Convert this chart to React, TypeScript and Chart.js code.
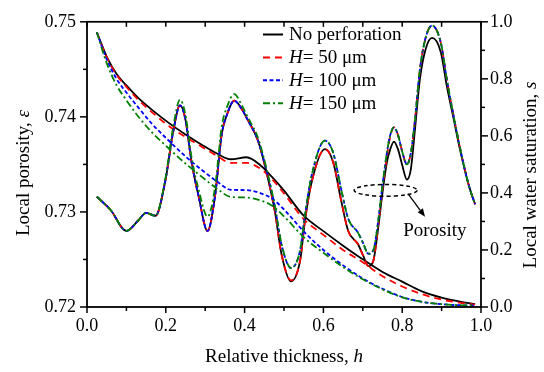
import React, { useEffect, useRef } from 'react';
import { Chart, registerables } from 'chart.js';

Chart.register(...registerables);

// ---- data ----
const H_POR = [0.025,0.06,0.10,0.13,0.15,0.174,0.198,0.219,0.236,0.249,0.266,0.283,0.306,0.325,0.342,0.355,0.374,0.393,0.409,0.434,0.456,0.477,0.494,0.518,0.541,0.553,0.57,0.604,0.625,0.646,0.663,0.688,0.701,0.714,0.727,0.739,0.749,0.761,0.769,0.779,0.79,0.799,0.812,0.822,0.832,0.845,0.86,0.876,0.898,0.913,0.93,0.947,0.969,0.985];
const POR_NONE = [0.7316,0.7302,0.7280,0.7291,0.7299,0.7296,0.7331,0.7385,0.7412,0.7399,0.7351,0.7317,0.7280,0.7317,0.7382,0.7402,0.7417,0.7408,0.7396,0.7375,0.7341,0.7300,0.7255,0.7227,0.7249,0.7290,0.7331,0.7366,0.7352,0.7310,0.7280,0.7266,0.7254,0.7243,0.7249,0.7283,0.7317,0.7352,0.7365,0.7374,0.7365,0.7351,0.7334,0.7345,0.7385,0.7440,0.7472,0.7483,0.7468,0.7433,0.7399,0.7365,0.7328,0.7308];
const POR_50 = [0.7316,0.7302,0.7280,0.7291,0.7299,0.7296,0.7331,0.7385,0.7412,0.7399,0.7351,0.7317,0.7280,0.7317,0.7382,0.7402,0.7417,0.7408,0.7396,0.7375,0.7341,0.7300,0.7255,0.7228,0.7249,0.7290,0.7331,0.7366,0.7352,0.7310,0.7280,0.7266,0.7254,0.7243,0.7249,0.7285,0.7321,0.7358,0.7378,0.7389,0.7380,0.7365,0.7350,0.7362,0.7395,0.7450,0.7484,0.7496,0.7478,0.7440,0.7402,0.7367,0.7328,0.7308];
const POR_100 = [0.7316,0.7302,0.7280,0.7291,0.7299,0.7296,0.7331,0.7385,0.7412,0.7399,0.7351,0.7317,0.7280,0.7317,0.7382,0.7402,0.7417,0.7408,0.7396,0.7375,0.7343,0.7305,0.7265,0.7241,0.7260,0.7296,0.7338,0.7375,0.7362,0.7322,0.7293,0.7278,0.7267,0.7256,0.7260,0.7290,0.7325,0.7362,0.7380,0.7389,0.7380,0.7365,0.7350,0.7362,0.7395,0.7450,0.7484,0.7496,0.7478,0.7440,0.7402,0.7367,0.7328,0.7308];
const POR_150 = [0.7316,0.7302,0.7280,0.7291,0.7299,0.7296,0.7333,0.7390,0.7418,0.7404,0.7356,0.7324,0.7295,0.7326,0.7390,0.7410,0.7424,0.7412,0.7399,0.7378,0.7345,0.7306,0.7266,0.7241,0.7260,0.7296,0.7338,0.7375,0.7362,0.7322,0.7293,0.7278,0.7267,0.7256,0.7260,0.7290,0.7325,0.7362,0.7380,0.7389,0.7380,0.7365,0.7350,0.7362,0.7395,0.7450,0.7484,0.7496,0.7478,0.7440,0.7402,0.7367,0.7328,0.7308];

const H_SAT = [0.025,0.05,0.075,0.10,0.13,0.165,0.21,0.25,0.29,0.33,0.365,0.405,0.44,0.47,0.50,0.55,0.60,0.65,0.70,0.75,0.80,0.85,0.90,0.95,0.985];
const SAT_NONE = [0.963,0.878,0.817,0.777,0.733,0.691,0.643,0.605,0.570,0.538,0.518,0.525,0.497,0.455,0.408,0.320,0.266,0.215,0.167,0.123,0.089,0.055,0.033,0.018,0.010];
const SAT_50 = [0.963,0.876,0.814,0.772,0.727,0.683,0.632,0.596,0.563,0.530,0.505,0.505,0.485,0.448,0.398,0.308,0.253,0.200,0.157,0.108,0.072,0.045,0.026,0.014,0.008];
const SAT_100 = [0.963,0.868,0.800,0.752,0.700,0.642,0.580,0.528,0.482,0.440,0.411,0.410,0.399,0.380,0.342,0.265,0.200,0.146,0.100,0.064,0.035,0.018,0.010,0.006,0.005];
const SAT_150 = [0.963,0.855,0.778,0.725,0.668,0.612,0.553,0.503,0.458,0.415,0.386,0.384,0.374,0.355,0.318,0.245,0.190,0.140,0.097,0.062,0.034,0.018,0.010,0.006,0.005];

const SERIES_NAMES = ['No perforation', 'H= 50 μm', 'H= 100 μm', 'H= 150 μm'];
const X_TITLE = 'Relative thickness, ';
const YL_TITLE = 'Local porosity, ';
const YR_TITLE = 'Local water saturation, ';
const ANNOT_TEXT = 'Porosity';

// ---- styles ----
const COLORS = ['#000000', '#ff0000', '#0000ff', '#008000'];
const DASHES: number[][] = [[], [7, 5], [4, 2.5], [7, 3, 2, 3]];
const FONT = '"Liberation Serif", "Times New Roman", serif';

const pts = (xs: number[], ys: number[]) => xs.map((x, i) => ({ x, y: ys[i] }));

type Part = [string, boolean];
function richWidth(ctx: CanvasRenderingContext2D, parts: Part[], size: number) {
  let w = 0;
  for (const [t, it] of parts) {
    ctx.font = `${it ? 'italic ' : ''}${size}px ${FONT}`;
    w += ctx.measureText(t).width;
  }
  return w;
}
function drawRich(ctx: CanvasRenderingContext2D, parts: Part[], x: number, y: number, size: number, align: 'left' | 'center') {
  let cx = x;
  if (align === 'center') cx = x - richWidth(ctx, parts, size) / 2;
  ctx.textAlign = 'left';
  ctx.textBaseline = 'alphabetic';
  for (const [t, it] of parts) {
    ctx.font = `${it ? 'italic ' : ''}${size}px ${FONT}`;
    ctx.fillText(t, cx, y);
    cx += ctx.measureText(t).width;
  }
}

const decor = {
  id: 'decor',
  afterDraw(chart: any) {
    const { ctx, chartArea: a, scales } = chart;
    const sx = scales.x, yl = scales.yL, yr = scales.yR;
    ctx.save();
    ctx.strokeStyle = '#000';
    ctx.fillStyle = '#000';
    ctx.setLineDash([]);

    const line = (x1: number, y1: number, x2: number, y2: number) => {
      ctx.beginPath(); ctx.moveTo(x1, y1); ctx.lineTo(x2, y2); ctx.stroke();
    };

    // ticks
    ctx.lineWidth = 1.5;
    for (let i = 0; i <= 10; i++) {
      const px = sx.getPixelForValue(i / 10);
      const major = i % 2 === 0;
      line(px, a.bottom, px, a.bottom + (major ? 6 : 4));
      line(px, a.top, px, a.top + 5);
    }
    for (let i = 0; i <= 6; i++) {
      const py = yl.getPixelForValue(0.72 + i * 0.005);
      line(a.left, py, a.left - (i % 2 === 0 ? 7 : 4), py);
    }
    for (let i = 0; i <= 10; i++) {
      const py = yr.getPixelForValue(i / 10);
      line(a.right, py, a.right + (i % 2 === 0 ? 7 : 4), py);
    }
    // frame
    ctx.lineWidth = 1.8;
    ctx.strokeRect(a.left, a.top, a.right - a.left, a.bottom - a.top);

    // axis titles
    drawRich(ctx, [[X_TITLE, false], ['h', true]], (a.left + a.right) / 2, 362, 19, 'center');
    ctx.save();
    ctx.translate(29, 173);
    ctx.rotate(-Math.PI / 2);
    drawRich(ctx, [[YL_TITLE, false], ['ε', true]], 0, 0, 19, 'center');
    ctx.restore();
    ctx.save();
    ctx.translate(536, 175);
    ctx.rotate(-Math.PI / 2);
    drawRich(ctx, [[YR_TITLE, false], ['s', true]], 0, 0, 19, 'center');
    ctx.restore();

    // legend
    const lx0 = 263, lx1 = 283, tx = 289;
    SERIES_NAMES.forEach((name, i) => {
      const ly = 34.5 + i * 22.9;
      ctx.strokeStyle = COLORS[i];
      ctx.lineWidth = 2;
      ctx.setLineDash(DASHES[i]);
      line(lx0, ly, lx1, ly);
      ctx.setLineDash([]);
      ctx.fillStyle = '#000';
      const parts: Part[] = name.startsWith('H') ? [['H', true], [name.slice(1), false]] : [[name, false]];
      drawRich(ctx, parts, tx, ly + 5.5, 19, 'left');
    });

    // annotation: dashed ellipse, arrow, text
    ctx.strokeStyle = '#000';
    ctx.fillStyle = '#000';
    const cx = sx.getPixelForValue(0.758), cy = yl.getPixelForValue(0.73227);
    const rx = sx.getPixelForValue(0.838) - cx;
    const ry = yl.getPixelForValue(0.73227 - 0.00062) - cy;
    ctx.lineWidth = 1.5;
    ctx.setLineDash([4, 3]);
    ctx.beginPath();
    ctx.ellipse(cx, cy, rx, ry, 0, 0, Math.PI * 2);
    ctx.stroke();
    ctx.setLineDash([]);
    const ax1 = sx.getPixelForValue(0.815), ay1 = yl.getPixelForValue(0.7319);
    const ax2 = sx.getPixelForValue(0.858), ay2 = yl.getPixelForValue(0.7295);
    const ang = Math.atan2(ay2 - ay1, ax2 - ax1);
    const hl = 8, hw = 3.2;
    const bx = ax2 - hl * Math.cos(ang), by = ay2 - hl * Math.sin(ang);
    ctx.lineWidth = 1.3;
    line(ax1, ay1, bx, by);
    ctx.beginPath();
    ctx.moveTo(ax2, ay2);
    ctx.lineTo(bx + hw * Math.sin(ang), by - hw * Math.cos(ang));
    ctx.lineTo(bx - hw * Math.sin(ang), by + hw * Math.cos(ang));
    ctx.closePath();
    ctx.fill();
    drawRich(ctx, [[ANNOT_TEXT, false]], sx.getPixelForValue(0.883), yl.getPixelForValue(0.72743), 19, 'center');

    ctx.restore();
  },
};

export default function App() {
  const ref = useRef<HTMLCanvasElement>(null);
  useEffect(() => {
    const tickFont = { family: FONT, size: 18 };
    const mk = (label: string, xs: number[], ys: number[], i: number, axis: string) => ({
      label,
      data: pts(xs, ys),
      yAxisID: axis,
      borderColor: COLORS[i],
      backgroundColor: COLORS[i],
      borderWidth: 1.8,
      borderDash: DASHES[i],
      pointRadius: 0,
      fill: false,
      cubicInterpolationMode: 'monotone' as const,
      order: 4 - i,
    });
    const chart = new Chart(ref.current as HTMLCanvasElement, {
      type: 'line',
      data: {
        datasets: [
          mk(SERIES_NAMES[0], H_POR, POR_NONE, 0, 'yL'),
          mk(SERIES_NAMES[1], H_POR, POR_50, 1, 'yL'),
          mk(SERIES_NAMES[2], H_POR, POR_100, 2, 'yL'),
          mk(SERIES_NAMES[3], H_POR, POR_150, 3, 'yL'),
          mk(SERIES_NAMES[0], H_SAT, SAT_NONE, 0, 'yR'),
          mk(SERIES_NAMES[1], H_SAT, SAT_50, 1, 'yR'),
          mk(SERIES_NAMES[2], H_SAT, SAT_100, 2, 'yR'),
          mk(SERIES_NAMES[3], H_SAT, SAT_150, 3, 'yR'),
        ] as any,
      },
      options: {
        responsive: false,
        animation: false,
        layout: { padding: { left: 0, right: 0, top: 16, bottom: 0 } },
        plugins: { legend: { display: false }, tooltip: { enabled: false } },
        scales: {
          x: {
            type: 'linear', min: 0, max: 1,
            grid: { display: false, drawTicks: false },
            border: { display: false },
            ticks: { stepSize: 0.2, padding: 8, font: tickFont, color: '#000', maxRotation: 0, autoSkip: false,
              callback: (v: any) => Number(v).toFixed(1) },
            afterFit: (s: any) => { s.height = 65; },
          },
          yL: {
            type: 'linear', position: 'left', min: 0.72, max: 0.75,
            grid: { display: false, drawTicks: false },
            border: { display: false },
            ticks: { stepSize: 0.01, padding: 11, font: tickFont, color: '#000',
              callback: (v: any) => Number(v).toFixed(2) },
            afterFit: (s: any) => { s.width = 87; },
          },
          yR: {
            type: 'linear', position: 'right', min: 0, max: 1,
            grid: { display: false, drawTicks: false },
            border: { display: false },
            ticks: { stepSize: 0.2, padding: 9, font: tickFont, color: '#000',
              callback: (v: any) => Number(v).toFixed(1) },
            afterFit: (s: any) => { s.width = 63; },
          },
        },
      } as any,
      plugins: [decor],
    });
    return () => chart.destroy();
  }, []);
  return (
    <div style={{ position: 'absolute', left: 0, top: 0, width: 544, height: 372, background: '#fff' }}>
      <canvas ref={ref} width={544} height={372} style={{ display: 'block' }} />
    </div>
  );
}
